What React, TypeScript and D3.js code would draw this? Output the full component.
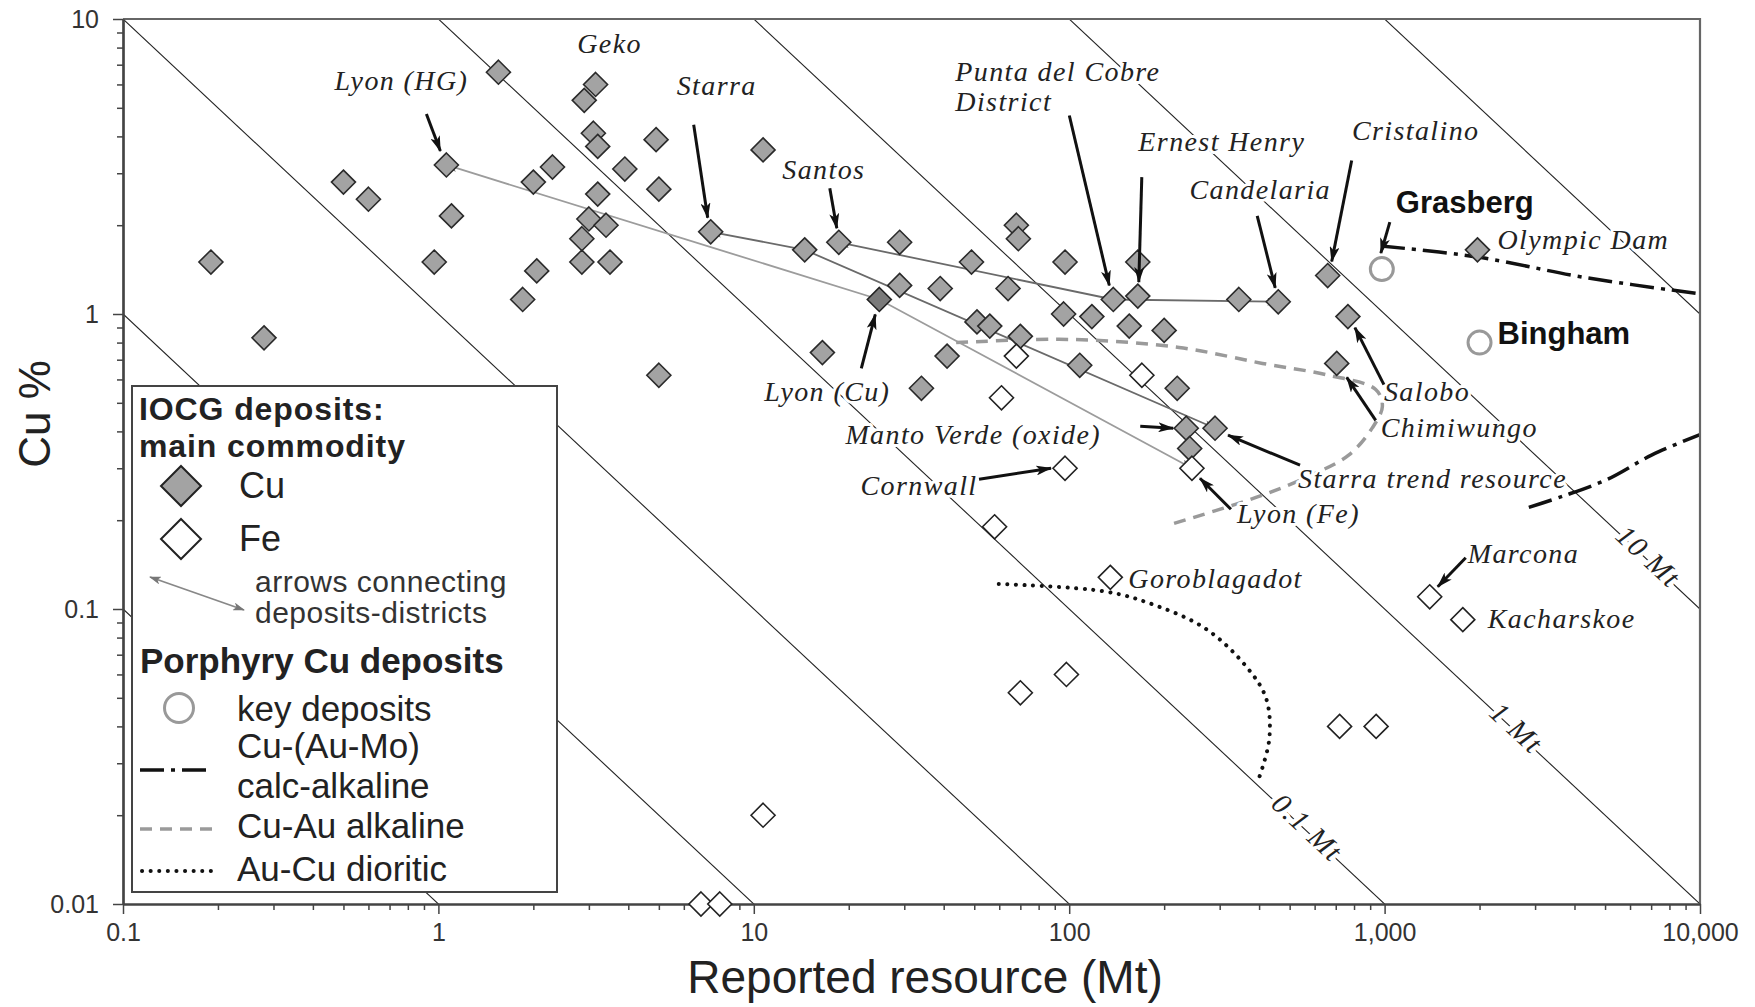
import { useEffect, useRef } from "react"
import { axisBottom, axisLeft, curveCatmullRom, format, line, scaleLog, select } from "d3"

// IOCG deposits with Cu as main commodity: [reported resource Mt, Cu %]
const cuDeposits = [
  [0.19, 1.5], [0.28, 0.83], [0.5, 2.8], [0.6, 2.45], [0.97, 1.5], [1.06, 3.2], [1.1, 2.15],
  [1.55, 6.6], [2.0, 2.8], [2.05, 1.4], [1.85, 1.12], [2.3, 3.15], [2.9, 5.3], [3.15, 6.0],
  [3.1, 4.1], [3.2, 3.7], [3.2, 2.55], [3.0, 2.1], [2.85, 1.8], [2.85, 1.5], [3.4, 2.0],
  [3.5, 1.5], [3.9, 3.1], [4.9, 3.9], [5.0, 2.65], [5.0, 0.62], [7.3, 1.9], [10.7, 3.6],
  [14.5, 1.65], [16.5, 0.74], [18.6, 1.75], [29, 1.25], [29, 1.75], [34, 0.56], [39, 1.22],
  [41, 0.72], [49, 1.5], [51, 0.94], [56, 0.91], [64, 1.22], [68, 2.0], [69, 1.8], [70, 0.84],
  [97, 1.5], [96, 1.0], [108, 0.67], [118, 0.98], [138, 1.12], [155, 0.91], [165, 1.5],
  [165, 1.15], [200, 0.88], [220, 0.56], [235, 0.41], [241, 0.35], [290, 0.41], [345, 1.12],
  [460, 1.1], [660, 1.35], [765, 0.98], [705, 0.68], [1970, 1.65]
]
// Lyon (Cu) drawn darker
const cuDistrict = [[25, 1.12]]

// IOCG deposits with Fe as main commodity
const feDeposits = [
  [68, 0.72], [61, 0.52], [170, 0.62], [97, 0.3], [58, 0.19], [245, 0.3], [135, 0.128],
  [1390, 0.11], [1770, 0.092], [98, 0.06], [70, 0.052], [720, 0.04], [940, 0.04],
  [10.7, 0.02], [6.8, 0.01], [7.8, 0.01]
]

// porphyry key deposits
const porphyryNames = ["Grasberg", "Bingham"]
const porphyryMt = [980, 2000]
const porphyryCu = [1.42, 0.8]

// porphyry fields
const calcAlkalineUpper = [[975, 1.7], [1970, 1.56], [4315, 1.33], [10000, 1.17]]
const calcAlkalineLower = [[2866, 0.221], [3664, 0.241], [5080, 0.275], [7046, 0.333], [10000, 0.39]]
const alkaline = [
  [43.8, 0.8], [101, 0.82], [223, 0.77], [410, 0.68], [665, 0.62], [937, 0.555], [984, 0.487],
  [914, 0.411], [771, 0.333], [589, 0.285], [410, 0.243], [215, 0.195]
]
const dioritic = [
  [59.8, 0.1216], [131, 0.1145], [187, 0.103], [271, 0.0857], [363, 0.0641], [421, 0.0498],
  [431, 0.0363], [401, 0.027]
]

// arrows connecting deposits-districts
const lyonTrend = [[1.06, 3.2], [25, 1.12], [245, 0.3]]
const starraTrend = [[7.3, 1.9], [14.5, 1.65], [290, 0.41]]
const santosTrend = [[18.6, 1.75], [138, 1.12], [460, 1.1]]

// contained Cu metal lines (Mt)
const metalLines = [0.0001, 0.001, 0.01, 0.1, 1, 10, 100]
const metalLabels = ["0.1 Mt", "1 Mt", "10 Mt"]
const metalLabelValues = [0.1, 1, 10]
const metalLabelAt = [560, 2577, 6760]

const xMajor = [0.1, 1, 10, 100, 1000, 10000]
const yMajor = [0.01, 0.1, 1, 10]

// labels: point, label offset, anchor, arrow offsets
const annotations = [
  { text: "Lyon (HG)", at: [1.06, 3.2], dx: -45, dy: -81, anchor: "middle", arrow: [-20, -51, -6, -14] },
  { text: "Geko", at: [3.15, 6.0], dx: 14, dy: -38, anchor: "middle" },
  { text: "Starra", at: [7.3, 1.9], dx: 6, dy: -143, anchor: "middle", arrow: [-17, -107, -3, -14] },
  { text: "Santos", at: [18.6, 1.75], dx: -15, dy: -70, anchor: "middle", arrow: [-9, -54, -2, -14] },
  { text: "Punta del Cobre", at: [138, 1.12], dx: -158, dy: -225, anchor: "start" },
  { text: "District", at: [138, 1.12], dx: -158, dy: -195, anchor: "start", arrow: [-44, -184, -4, -14] },
  { text: "Ernest Henry", at: [165, 1.15], dx: 84, dy: -152, anchor: "middle", arrow: [4, -119, 1, -14] },
  { text: "Candelaria", at: [460, 1.1], dx: -18, dy: -109, anchor: "middle", arrow: [-21, -86, -3, -14] },
  { text: "Cristalino", at: [660, 1.35], dx: 88, dy: -142, anchor: "middle", arrow: [24, -115, 4, -14] },
  { text: "Olympic Dam", at: [1970, 1.65], dx: 20, dy: -7, anchor: "start" },
  { text: "Salobo", at: [765, 0.98], dx: 36, dy: 78, anchor: "start", arrow: [36, 68, 7, 11] },
  { text: "Chimiwungo", at: [705, 0.68], dx: 44, dy: 67, anchor: "start", arrow: [39, 57, 10, 14] },
  { text: "Starra trend resource", at: [290, 0.41], dx: 83, dy: 53, anchor: "start", arrow: [85, 37, 13, 7] },
  { text: "Lyon (Fe)", at: [245, 0.3], dx: 45, dy: 48, anchor: "start", arrow: [39, 41, 8, 10] },
  { text: "Manto Verde (oxide)", at: [235, 0.41], dx: -213, dy: 9, anchor: "middle", arrow: [-46, -2, -13, 0] },
  { text: "Cornwall", at: [97, 0.3], dx: -146, dy: 20, anchor: "middle", arrow: [-86, 11, -14, 0] },
  { text: "Lyon (Cu)", at: [25, 1.12], dx: -52, dy: 95, anchor: "middle", arrow: [-18, 69, -4, 15] },
  { text: "Goroblagadot", at: [135, 0.128], dx: 18, dy: 4, anchor: "start" },
  { text: "Marcona", at: [1390, 0.11], dx: 38, dy: -40, anchor: "start", arrow: [36, -39, 8, -10] },
  { text: "Kacharskoe", at: [1770, 0.092], dx: 25, dy: 2, anchor: "start" }
]
const porphyryLabelDx = [14, 18]
const porphyryLabelDy = [-64, -7]
const grasbergArrow = [8, -47, -1, -16]

const W = 1755
const H = 1007
const sans = "'Liberation Sans', Arial, sans-serif"
const serif = "'Liberation Serif', 'Times New Roman', serif"

const x = scaleLog().domain([0.1, 10000]).range([123, 1700])
const y = scaleLog().domain([0.01, 10]).range([904, 19])

const minorTicks = (lo, hi) => {
  const out = []
  for (let d = lo; d < hi; d *= 10) for (let k = 2; k <= 9; k++) out.push(+(k * d).toPrecision(3))
  return out
}

const diamond = (s) => `M0,${-s}L${s},0L0,${s}L${-s},0Z`

function Axis({ kind, ticks, size, labels, transform, padding }) {
  const ref = useRef(null)
  useEffect(() => {
    if (!ref.current) return
    const gen = (kind === "bottom" ? axisBottom(x) : axisLeft(y))
      .tickValues(ticks)
      .tickSize(size)
      .tickSizeOuter(0)
      .tickPadding(padding)
      .tickFormat(labels ? format(",") : () => "")
    const g = select(ref.current)
    g.call(gen)
    g.select(".domain").attr("stroke", "#444").attr("stroke-width", 2.2)
    g.selectAll(".tick line").attr("stroke", "#444").attr("stroke-width", 1.5)
    g.selectAll(".tick text")
      .attr("font-size", 25)
      .attr("font-family", sans)
      .attr("fill", "#333")
  }, [kind, ticks, size, labels, padding])
  return <g ref={ref} transform={transform} />
}

const curve = line().x((d) => x(d[0])).y((d) => y(d[1])).curve(curveCatmullRom.alpha(0.5))
const straight = line().x((d) => x(d[0])).y((d) => y(d[1]))

function Label({ px, py, text, anchor, bold }) {
  return (
    <text
      x={px}
      y={py}
      textAnchor={anchor}
      dominantBaseline="middle"
      fontFamily={bold ? sans : serif}
      fontStyle={bold ? "normal" : "italic"}
      fontWeight={bold ? 700 : 400}
      fontSize={bold ? 31 : 28}
      letterSpacing={bold ? 0 : 1.4}
      fill={bold ? "#111" : "#222"}
      stroke="#fff"
      strokeWidth={6}
      strokeLinejoin="round"
      paintOrder="stroke"
    >
      {text}
    </text>
  )
}

export default function App() {
  const lineLabels = metalLabelValues.map((v, i) => {
    const p = v * 100
    const xv = metalLabelAt[i]
    const x1 = x(xv), y1 = y(p / xv)
    const x2 = x(xv * 2), y2 = y(p / (xv * 2))
    const angle = (Math.atan2(y2 - y1, x2 - x1) * 180) / Math.PI
    return { text: metalLabels[i], x1, y1, angle }
  })

  return (
    <svg width={W} height={H} style={{ display: "block", position: "absolute", left: 0, top: 0, background: "#fff" }}>
      <defs>
        <clipPath id="plot">
          <rect x={123} y={19} width={1577} height={885} />
        </clipPath>
        <marker id="blackHead" viewBox="0 0 16 10" refX={15} refY={5} markerWidth={16} markerHeight={10} markerUnits="userSpaceOnUse" orient="auto">
          <path d="M0,0L16,5L0,10L4,5Z" fill="#111" />
        </marker>
        <marker id="grayHead" viewBox="0 0 12 8" refX={11} refY={4} markerWidth={12} markerHeight={8} markerUnits="userSpaceOnUse" orient="auto-start-reverse">
          <path d="M0,0L12,4L0,8L3,4Z" fill="#777" />
        </marker>
      </defs>

      <rect x={0} y={0} width={W} height={H} fill="#fff" />

      {/* contained-metal lines */}
      <g clipPath="url(#plot)">
        {metalLines.map((m) => {
          const p = m * 100
          return (
            <line key={m} x1={x(0.1)} y1={y(p / 0.1)} x2={x(10000)} y2={y(p / 10000)} stroke="#222" strokeWidth={1.1} />
          )
        })}
      </g>
      {lineLabels.map((d) => (
        <text
          key={d.text}
          transform={`translate(${d.x1},${d.y1}) rotate(${d.angle})`}
          textAnchor="middle"
          dominantBaseline="middle"
          fontFamily={serif}
          fontStyle="italic"
          fontSize={29}
          letterSpacing={1.5}
          fill="#222"
          stroke="#fff"
          strokeWidth={8}
          paintOrder="stroke"
        >
          {d.text}
        </text>
      ))}

      {/* porphyry fields */}
      <g fill="none" clipPath="url(#plot)">
        <path d={curve(alkaline)} stroke="#9a9a9a" strokeWidth={3.5} strokeDasharray="12,8" />
        <path d={curve(dioritic)} stroke="#111" strokeWidth={4} strokeDasharray="0.1,8.5" strokeLinecap="round" />
        <path d={curve(calcAlkalineUpper)} stroke="#111" strokeWidth={3.5} strokeDasharray="24,7,4,7" />
        <path d={curve(calcAlkalineLower)} stroke="#111" strokeWidth={3.5} strokeDasharray="24,7,4,7" />
      </g>

      {/* frame and axes */}
      <path d={`M123,19H1700V904`} fill="none" stroke="#666" strokeWidth={2.2} />
      <Axis kind="bottom" ticks={minorTicks(0.1, 10000)} size={6} labels={false} padding={8} transform="translate(0,904)" />
      <Axis kind="bottom" ticks={xMajor} size={10} labels={true} padding={9} transform="translate(0,904)" />
      <Axis kind="left" ticks={minorTicks(0.01, 10)} size={6} labels={false} padding={8} transform="translate(123,0)" />
      <Axis kind="left" ticks={yMajor} size={10} labels={true} padding={14} transform="translate(123,0)" />

      <text x={925} y={981} textAnchor="middle" dominantBaseline="middle" fontFamily={sans} fontSize={46} fill="#222">
        Reported resource (Mt)
      </text>
      <text transform="translate(38,414) rotate(-90)" textAnchor="middle" dominantBaseline="middle" fontFamily={sans} fontSize={44} fill="#222">
        Cu %
      </text>

      {/* connectors */}
      <g fill="none" strokeWidth={1.8}>
        <path d={straight(lyonTrend)} stroke="#9c9c9c" markerEnd="url(#grayHead)" markerStart="url(#grayHead)" />
        <path d={straight(starraTrend)} stroke="#6a6a6a" markerEnd="url(#grayHead)" markerStart="url(#grayHead)" />
        <path d={straight(santosTrend)} stroke="#6a6a6a" markerEnd="url(#grayHead)" markerStart="url(#grayHead)" />
      </g>

      {/* deposits */}
      {cuDeposits.map((d, i) => (
        <path key={`cu${i}`} d={diamond(12)} transform={`translate(${x(d[0])},${y(d[1])})`} fill="#a3a3a3" stroke="#2a2a2a" strokeWidth={1.6} />
      ))}
      {cuDistrict.map((d, i) => (
        <path key={`cd${i}`} d={diamond(12)} transform={`translate(${x(d[0])},${y(d[1])})`} fill="#7a7a7a" stroke="#222" strokeWidth={1.6} />
      ))}
      {feDeposits.map((d, i) => (
        <path key={`fe${i}`} d={diamond(12)} transform={`translate(${x(d[0])},${y(d[1])})`} fill="#fff" stroke="#222" strokeWidth={1.6} />
      ))}
      {porphyryMt.map((m, i) => (
        <circle key={porphyryNames[i]} cx={x(m)} cy={y(porphyryCu[i])} r={11.5} fill="#fff" stroke="#999" strokeWidth={3} />
      ))}

      {/* labels and pointer arrows */}
      {annotations.map((a) => {
        const px = x(a.at[0])
        const py = y(a.at[1])
        return (
          <g key={a.text}>
            <Label px={px + a.dx} py={py + a.dy} text={a.text} anchor={a.anchor} />
            {a.arrow && (
              <line
                x1={px + a.arrow[0]}
                y1={py + a.arrow[1]}
                x2={px + a.arrow[2]}
                y2={py + a.arrow[3]}
                stroke="#111"
                strokeWidth={3}
                markerEnd="url(#blackHead)"
              />
            )}
          </g>
        )
      })}
      {porphyryMt.map((m, i) => (
        <Label key={`pl${i}`} px={x(m) + porphyryLabelDx[i]} py={y(porphyryCu[i]) + porphyryLabelDy[i]} text={porphyryNames[i]} anchor="start" bold />
      ))}
      <line
        x1={x(porphyryMt[0]) + grasbergArrow[0]}
        y1={y(porphyryCu[0]) + grasbergArrow[1]}
        x2={x(porphyryMt[0]) + grasbergArrow[2]}
        y2={y(porphyryCu[0]) + grasbergArrow[3]}
        stroke="#111"
        strokeWidth={3}
        markerEnd="url(#blackHead)"
      />

      {/* legend */}
      <g fontFamily={sans} fill="#222">
        <rect x={132} y={386} width={425} height={506} fill="#fff" stroke="#444" strokeWidth={2} />
        <text x={139} y={420} fontSize={32} fontWeight={700} letterSpacing={0.9}>IOCG deposits:</text>
        <text x={139} y={457} fontSize={32} fontWeight={700} letterSpacing={0.9}>main commodity</text>
        <path d={diamond(20)} transform="translate(181,486)" fill="#a3a3a3" stroke="#222" strokeWidth={2} />
        <text x={239} y={498} fontSize={36}>Cu</text>
        <path d={diamond(20)} transform="translate(181,539)" fill="#fff" stroke="#222" strokeWidth={2} />
        <text x={239} y={551} fontSize={36}>Fe</text>
        <line x1={150} y1={577} x2={244} y2={610} stroke="#888" strokeWidth={1.8} markerStart="url(#grayHead)" markerEnd="url(#grayHead)" />
        <text x={255} y={592} fontSize={30} letterSpacing={0.5} fill="#333">arrows connecting</text>
        <text x={255} y={623} fontSize={30} letterSpacing={0.5} fill="#333">deposits-districts</text>
        <text x={140} y={673} fontSize={35} fontWeight={700}>Porphyry Cu deposits</text>
        <circle cx={179} cy={708} r={14.5} fill="#fff" stroke="#999" strokeWidth={3} />
        <text x={237} y={721} fontSize={35}>key deposits</text>
        <text x={237} y={758} fontSize={35}>Cu-(Au-Mo)</text>
        <line x1={140} y1={770} x2={213} y2={770} stroke="#111" strokeWidth={3.5} strokeDasharray="24,7,4,7" />
        <text x={237} y={798} fontSize={35}>calc-alkaline</text>
        <line x1={140} y1={829} x2={213} y2={829} stroke="#9a9a9a" strokeWidth={3.5} strokeDasharray="12,8" />
        <text x={237} y={838} fontSize={35}>Cu-Au alkaline</text>
        <line x1={142} y1={871} x2={213} y2={871} stroke="#111" strokeWidth={4} strokeDasharray="0.1,8.5" strokeLinecap="round" />
        <text x={237} y={881} fontSize={35}>Au-Cu dioritic</text>
      </g>
    </svg>
  )
}
